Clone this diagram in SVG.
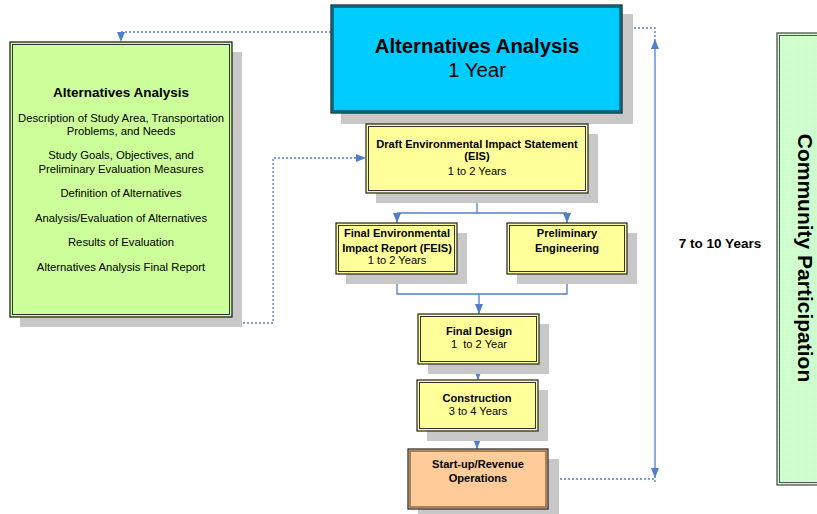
<svg xmlns="http://www.w3.org/2000/svg" width="817" height="514" viewBox="0 0 817 514">
<defs>
<style>
text{font-family:"Liberation Sans",Arial,sans-serif;fill:#000;text-anchor:middle}
.b{font-weight:bold}
.t{font-size:11.1px}
.g{font-size:11.3px}
.sh{fill:#c8c8c8}
.conn{fill:none;stroke:#4f7fc8;stroke-width:1.3}
.dash{fill:none;stroke:#4f7fc8;stroke-width:1.3;stroke-dasharray:2 2}
.yo{fill:#ffff99;stroke:#222;stroke-width:1.2}
.yi{fill:none;stroke:#333;stroke-width:1}
</style>
<marker id="ah" markerWidth="10" markerHeight="8" refX="10" refY="4" orient="auto" markerUnits="userSpaceOnUse">
<path d="M0,0 L10,4 L0,8 z" fill="#4f7fc8"/>
</marker>
<marker id="ahs" markerWidth="10" markerHeight="8" refX="10" refY="4" orient="auto-start-reverse" markerUnits="userSpaceOnUse">
<path d="M0,0 L10,4 L0,8 z" fill="#4f7fc8"/>
</marker>
<pattern id="dots" width="4" height="4" patternUnits="userSpaceOnUse">
<rect width="4" height="4" fill="#ccffcc"/>
<circle cx="1" cy="1" r="0.6" fill="#ffffff" opacity="0.8"/>
</pattern>
</defs>

<g id="connectors">
<path class="dash" d="M331,32 H121 V42" marker-end="url(#ah)"/>
<path class="dash" d="M125,317 V323 H273 V158 H366" marker-end="url(#ah)"/>
<path class="conn" d="M477,113 V124" marker-end="url(#ah)"/>
<path class="conn" d="M477,193 V213 M397,213 H567"/>
<path class="conn" d="M397,213 V223" marker-end="url(#ah)"/>
<path class="conn" d="M567,213 V223" marker-end="url(#ah)"/>
<path class="conn" d="M397,274 V294 H567 V274"/>
<path class="conn" d="M479,294 V314" marker-end="url(#ah)"/>
<path class="conn" d="M478,364 V380" marker-end="url(#ah)"/>
<path class="conn" d="M477,431 V449" marker-end="url(#ah)"/>
<path class="dash" d="M622,28 H655 V38"/>
<path class="conn" d="M655,39 V478" marker-start="url(#ahs)" marker-end="url(#ahs)"/>
<path class="dash" d="M548,479 H655 V484"/>
</g>

<g id="aa-detail">
<rect class="sh" x="20" y="52" width="222" height="275"/>
<rect x="10" y="42" width="222" height="275" fill="#ccff99" stroke="#111" stroke-width="1.2"/>
<rect x="12.5" y="44.5" width="217" height="270" fill="none" stroke="#333" stroke-width="1"/>
<text class="b" x="121" y="97" font-size="13.5">Alternatives Analysis</text>
<text class="g" x="121" y="122">Description of Study Area, Transportation</text>
<text class="g" x="121" y="135">Problems, and Needs</text>
<text class="g" x="121" y="159">Study Goals, Objectives, and</text>
<text class="g" x="121" y="173">Preliminary Evaluation Measures</text>
<text class="g" x="121" y="197">Definition of Alternatives</text>
<text class="g" x="121" y="222">Analysis/Evaluation of Alternatives</text>
<text class="g" x="121" y="246">Results of Evaluation</text>
<text class="g" x="121" y="271">Alternatives Analysis Final Report</text>
</g>

<g id="aa-main">
<rect class="sh" x="341" y="14" width="292" height="110"/>
<rect x="331" y="5" width="291" height="108" fill="#00ccff" stroke="#111" stroke-width="1.2"/>
<rect x="333" y="7" width="287" height="104" fill="none" stroke="#006a80" stroke-width="2"/>
<text class="b" x="477" y="53" font-size="20.3">Alternatives Analysis</text>
<text x="477" y="77" font-size="20.5">1 Year</text>
</g>

<g id="draft-eis">
<rect class="sh" x="376" y="134" width="222" height="69"/>
<rect class="yo" x="366" y="124" width="222" height="69"/>
<rect class="yi" x="368.5" y="126.5" width="217" height="64"/>
<text class="b t" x="477" y="148">Draft Environmental Impact Statement</text>
<text class="b t" x="477" y="160">(EIS)</text>
<text class="t" x="477" y="175">1 to 2 Years</text>
</g>

<g id="feis">
<rect class="sh" x="346" y="233" width="121" height="51"/>
<rect class="yo" x="336" y="223" width="121" height="51"/>
<rect class="yi" x="338.5" y="225.5" width="116" height="46"/>
<text class="b t" x="397" y="237">Final Environmental</text>
<text class="b t" x="397" y="252">Impact Report (FEIS)</text>
<text class="t" x="397" y="264">1 to 2 Years</text>
</g>

<g id="prelim-eng">
<rect class="sh" x="517" y="233" width="120" height="51"/>
<rect class="yo" x="507" y="223" width="120" height="51"/>
<rect class="yi" x="509.5" y="225.5" width="115" height="46"/>
<text class="b t" x="567" y="237">Preliminary</text>
<text class="b t" x="567" y="252">Engineering</text>
</g>

<g id="final-design">
<rect class="sh" x="428" y="324" width="121" height="50"/>
<rect class="yo" x="418" y="314" width="121" height="50"/>
<rect class="yi" x="420.5" y="316.5" width="116" height="45"/>
<text class="b t" x="479" y="335">Final Design</text>
<text class="t" x="479" y="348" xml:space="preserve">1  to 2 Year</text>
</g>

<g id="construction">
<rect class="sh" x="427" y="390" width="121" height="51"/>
<rect class="yo" x="417" y="380" width="121" height="51"/>
<rect class="yi" x="419.5" y="382.5" width="116" height="46"/>
<text class="b t" x="477" y="402">Construction</text>
<text class="t" x="478" y="415">3 to 4 Years</text>
</g>

<g id="startup">
<rect class="sh" x="418" y="459" width="141" height="60"/>
<rect x="408" y="449" width="140" height="60" fill="#ffcc99" stroke="#222" stroke-width="1.2"/>
<rect x="410" y="451" width="136" height="56" fill="none" stroke="#8a6a4a" stroke-width="1.5"/>
<text class="b t" x="478" y="468">Start-up/Revenue</text>
<text class="b t" x="478" y="482">Operations</text>
</g>

<g id="duration">
<text class="b" x="720" y="248" font-size="13.5">7 to 10 Years</text>
</g>

<g id="community">
<rect x="777" y="33" width="50" height="452" fill="url(#dots)" stroke="#444" stroke-width="1.2"/>
<rect x="779.5" y="35.5" width="45" height="447" fill="none" stroke="#555" stroke-width="1"/>
<text class="b" font-size="21" transform="translate(798,258) rotate(90)">Community Participation</text>
</g>
</svg>
